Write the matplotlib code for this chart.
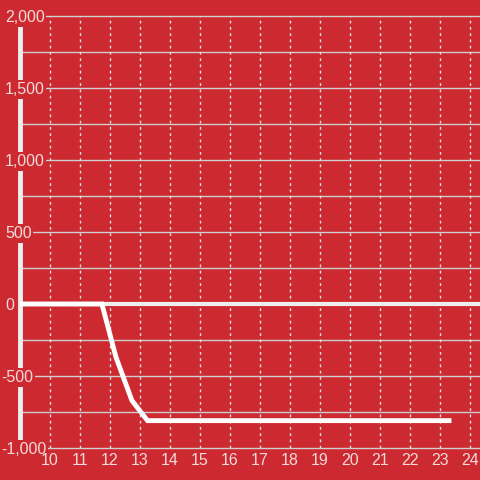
import matplotlib.pyplot as plt
import matplotlib.transforms as mtransforms

# series
xs = [9.0, 11.73, 12.2, 12.73, 13.25, 23.3]
ys = [0, 0, -370, -670, -810, -810]

x_ticks = list(range(10, 25))
y_major = [2000, 1500, 1000, 500, 0, -500, -1000]
y_minor = [1750, 1250, 750, 250, -250, -750]

bg = '#cc2a30'
txt = '#f3dada'

fig = plt.figure(figsize=(4.8, 4.8), dpi=100, facecolor=bg)
ax = fig.add_axes([20 / 480, 1 - 448 / 480, 460 / 480, 432 / 480])
ax.set_facecolor(bg)
ax.set_xlim(9, 9 + 460 / 30)
ax.set_ylim(-1000, 2000)

for s in ax.spines.values():
    s.set_visible(False)
ax.set_xticks([])
ax.set_yticks([])

# grid
for v in y_major + y_minor:
    if v == 0:
        continue
    ax.axhline(v, color='#cfcfcf', lw=1, zorder=1, clip_on=False)
for v in x_ticks:
    ax.axvline(v, color='#e0e0e0', lw=1, ls=(0, (2, 2.5)), zorder=1)

ax.axhline(0, color='#eeeeee', lw=3, zorder=2)
ax.axvline(9, color='#eeeeee', lw=3.5, zorder=2, clip_on=False)

ax.plot(xs, ys, color='white', lw=3.5, zorder=3, solid_joinstyle='miter')

# y labels on a red box over the axis line
tr = mtransforms.blended_transform_factory(fig.transFigure, ax.transData)
for v in y_major:
    ax.text(5 / 480 if v >= 0 else 1 / 480, v, f'{v:,}', transform=tr, ha='left',
            va='center_baseline', fontsize=11.5, color=txt, family='Liberation Sans',
            zorder=5, bbox=dict(boxstyle='square,pad=0.1', fc=bg, ec='none'))

# x labels under the plot
off = mtransforms.ScaledTranslation(0, -5 / 100, fig.dpi_scale_trans)
for v in x_ticks:
    ax.text(v, -1000, str(v), transform=ax.transData + off, ha='center', va='top',
            fontsize=11.5, color=txt, family='Liberation Sans', zorder=6)

fig.savefig('out.png', dpi=100, facecolor=bg)
